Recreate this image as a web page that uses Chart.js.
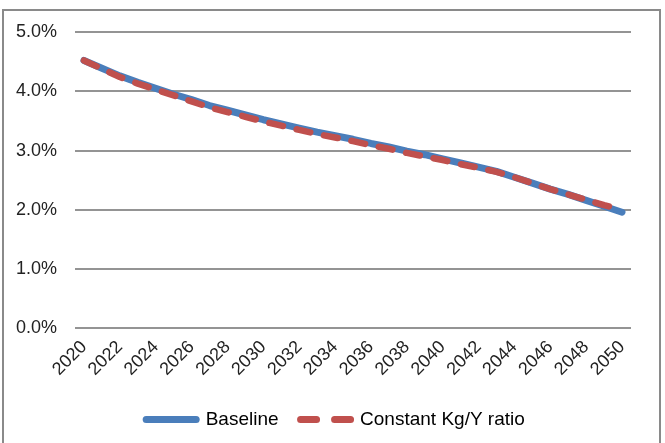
<!DOCTYPE html>
<html>
<head>
<meta charset="utf-8">
<script src="https://cdn.jsdelivr.net/npm/chart.js@4"></script>
<style>
  html, body { margin: 0; padding: 0; background: #fff; overflow: hidden; }
  #frame { position: absolute; left: 2px; top: 9px; width: 659px; height: 450px; border: 2px solid #8a8a8a; box-sizing: border-box; }
  #wrap { position: absolute; left: 0; top: 0; width: 665px; height: 443px; }
</style>
</head>
<body>
<div id="frame"></div>
<div id="wrap"><canvas id="chart"></canvas></div>
<script>
// годы по оси X
const years = [];
for (let y = 2020; y <= 2050; y++) years.push(String(y));

// значения, %
const baseline = [4.52, 4.39, 4.26, 4.15, 4.05, 3.95, 3.86, 3.76, 3.68, 3.60,
                  3.52, 3.45, 3.38, 3.31, 3.25, 3.19, 3.12, 3.06, 2.99, 2.93,
                  2.86, 2.79, 2.72, 2.65, 2.55, 2.45, 2.35, 2.26, 2.16, 2.06, 1.96];
const constantKgY = [4.52, 4.38, 4.24, 4.13, 4.03, 3.93, 3.83, 3.73, 3.65, 3.57,
                     3.49, 3.42, 3.35, 3.28, 3.22, 3.16, 3.09, 3.03, 2.96, 2.90,
                     2.84, 2.77, 2.71, 2.64, 2.55, 2.45, 2.35, 2.26, 2.17, 2.08, 2.00];

const yTicks = [0, 1, 2, 3, 4, 5];

const FONT = "'Liberation Sans', sans-serif";
const BLUE = '#4a7ebb';
const RED = '#c0504d';

// легенда в оригинале центрирована по всей рамке, а не по области до правого отступа
const shiftLegend = {
  id: 'shiftLegend',
  afterLayout(chart) {
    chart.legend.left += 20;
    chart.legend.right += 20;
  }
};

new Chart(document.getElementById('chart'), {
  type: 'line',
  data: {
    labels: years,
    datasets: [
      { label: 'Baseline', data: baseline, borderColor: BLUE, backgroundColor: BLUE, order: 1,
        borderWidth: 7, pointRadius: 0, tension: 0, borderCapStyle: 'round', borderJoinStyle: 'round' },
      { label: 'Constant Kg/Y ratio', data: constantKgY, borderColor: RED, backgroundColor: RED, order: 0,
        borderWidth: 6.5, pointRadius: 0, tension: 0, borderDash: [14, 14],
        borderCapStyle: 'round', borderJoinStyle: 'round' }
    ]
  },
  options: {
    responsive: true,
    maintainAspectRatio: false,
    animation: false,
    layout: { padding: { top: 32, right: 34, left: 0, bottom: 4 } },
    plugins: {
      tooltip: { enabled: false },
      legend: {
        position: 'bottom',
        labels: {
          usePointStyle: true,
          pointStyleWidth: 50,
          padding: 22,
          color: '#222',
          font: { family: FONT, size: 19 },
          generateLabels: function (chart) {
            return chart.data.datasets.map((ds, i) => ({
              text: ds.label,
              fillStyle: ds.borderColor,
              strokeStyle: ds.borderColor,
              lineWidth: 7,
              lineCap: 'round',
              lineDash: i === 1 ? [16, 18] : [],
              pointStyle: 'line',
              datasetIndex: i,
              hidden: false
            }));
          }
        }
      }
    },
    scales: {
      x: {
        offset: true,
        grid: { display: false, drawTicks: false },
        border: { display: false },
        ticks: {
          autoSkip: false,
          minRotation: 45,
          maxRotation: 45,
          padding: 8,
          color: '#222',
          font: { family: FONT, size: 18 },
          callback: function (v, i) { return i % 2 === 0 ? years[i] : ''; }
        }
      },
      y: {
        min: 0,
        max: 5,
        afterBuildTicks: function (scale) { scale.ticks = yTicks.map(v => ({ value: v })); },
        afterFit: function (scale) { scale.width = 75; },
        grid: { color: '#949494', lineWidth: 2, drawTicks: false },
        border: { display: false },
        ticks: {
          padding: 18,
          color: '#222',
          font: { family: FONT, size: 18 },
          callback: function (v) { return v.toFixed(1) + '%'; }
        }
      }
    }
  },
  plugins: [shiftLegend]
});
</script>
</body>
</html>
